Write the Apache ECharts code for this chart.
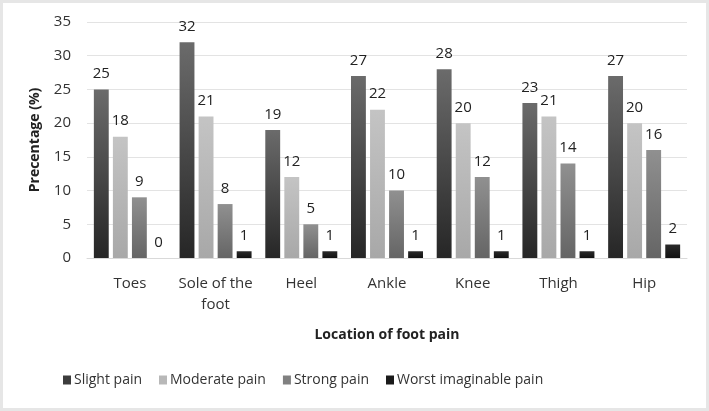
<!DOCTYPE html>
<html><head><meta charset="utf-8">
<script src="https://cdn.jsdelivr.net/npm/echarts@6/dist/echarts.min.js"></script>
<style>html,body{margin:0;padding:0;background:#fff}#c{width:709px;height:411px;box-sizing:border-box;border:3px solid #e6e6e6}</style>
</head><body><div id="c"></div>
<script>
var categories = ['Toes', 'Sole of the\nfoot', 'Heel', 'Ankle', 'Knee', 'Thigh', 'Hip'];
var slight = [25, 32, 19, 27, 28, 23, 27];
var moderate = [18, 21, 12, 22, 20, 21, 20];
var strong = [9, 8, 5, 10, 12, 14, 16];
var worst = [0, 1, 1, 1, 1, 1, 2];
var seriesNames = ['Slight pain', 'Moderate pain', 'Strong pain', 'Worst imaginable pain'];

var FONT = '"Open Sans", "Liberation Sans", sans-serif';
function grad(top, bottom) {
  return new echarts.graphic.LinearGradient(0, 0, 0, 1, [{offset: 0, color: top}, {offset: 1, color: bottom}]);
}
var colors = [grad('#6b6b6b', '#262626'), grad('#c4c4c4', '#a8a8a8'), grad('#909090', '#656565'), grad('#2a2a2a', '#111111')];
var legendColors = ['#3c3c3c', '#b8b8b8', '#808080', '#1a1a1a'];
var datasets = [slight, moderate, strong, worst];

var chart = echarts.init(document.getElementById('c'));
chart.setOption({
  backgroundColor: '#fff',
  animation: false,
  textStyle: {fontFamily: FONT},
  grid: {left: 84, right: 19, top: 19, bottom: 150},
  legend: {
    bottom: 16, left: 55, itemWidth: 8, itemHeight: 9, itemGap: 17,
    icon: 'rect',
    textStyle: {fontSize: 14, color: '#333', fontFamily: FONT, padding: [0, 0, 0, -2]},
    data: seriesNames.map(function (n, i) { return {name: n, itemStyle: {color: legendColors[i]}}; })
  },
  xAxis: {
    type: 'category', data: categories,
    name: 'Location of foot pain', nameLocation: 'middle', nameGap: 70,
    nameTextStyle: {fontSize: 14, fontWeight: 'bold', color: '#222', fontFamily: FONT},
    axisLine: {show: true, lineStyle: {color: '#d9d9d9'}},
    axisTick: {show: false},
    axisLabel: {interval: 0, fontSize: 15, color: '#333', margin: 15, lineHeight: 21, fontFamily: FONT}
  },
  yAxis: {
    type: 'value', min: 0, max: 35, interval: 5,
    name: 'Precentage (%)', nameLocation: 'middle', nameGap: 45,
    nameTextStyle: {fontSize: 14, fontWeight: 'bold', color: '#222', fontFamily: FONT},
    axisLine: {show: false}, axisTick: {show: false},
    axisLabel: {fontSize: 15, color: '#333', margin: 16, fontFamily: FONT},
    splitLine: {lineStyle: {color: '#e3e3e3'}}
  },
  series: datasets.map(function (d, i) {
    return {
      name: seriesNames[i], type: 'bar', data: d,
      barGap: '28%', barCategoryGap: '16%',
      itemStyle: {color: colors[i]},
      label: {show: true, position: 'top', distance: 8, fontSize: 15, color: '#222', fontFamily: FONT}
    };
  })
});
</script></body></html>
